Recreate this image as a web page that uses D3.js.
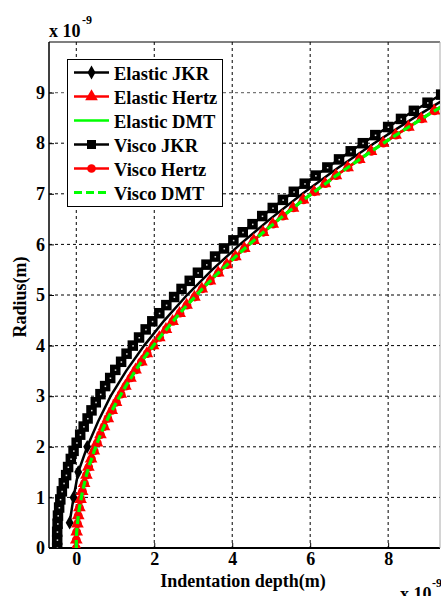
<!DOCTYPE html>
<html>
<head>
<meta charset="utf-8">
<script src="https://cdn.jsdelivr.net/npm/d3@7"></script>
<style>
  html, body { margin: 0; padding: 0; background: #fff; }
</style>
</head>
<body>
<div id="chart"></div>
<script>
// ---- data (both axes in units of 1e-9 m) ----
const radius = [0, 0.16, 0.32, 0.48, 0.64, 0.80, 0.96, 1.12, 1.28, 1.44, 1.60, 1.76, 1.92, 2.08, 2.24, 2.40,
    2.56, 2.72, 2.88, 3.04, 3.20, 3.36, 3.52, 3.68, 3.84, 4.00, 4.16, 4.32, 4.48, 4.64, 4.80, 4.96, 5.12,
    5.28, 5.44, 5.60, 5.76, 5.92, 6.08, 6.24, 6.40, 6.56, 6.72, 6.88, 7.04, 7.20, 7.36, 7.52, 7.68, 7.84,
    8.00, 8.16, 8.32, 8.48, 8.64, 8.80, 8.96, 9.12];

// Hertz (and DMT, which lies on top of it)
const hertzDepth = [0, 0.00, 0.01, 0.03, 0.05, 0.08, 0.11, 0.15, 0.20, 0.26, 0.31, 0.38, 0.45, 0.53, 0.62, 0.71,
    0.81, 0.91, 1.02, 1.14, 1.26, 1.39, 1.52, 1.67, 1.81, 1.97, 2.13, 2.30, 2.47, 2.65, 2.83, 3.03, 3.22,
    3.43, 3.64, 3.86, 4.08, 4.31, 4.55, 4.79, 5.04, 5.29, 5.56, 5.82, 6.10, 6.38, 6.66, 6.96, 7.26, 7.56,
    7.87, 8.19, 8.52, 8.85, 9.18, 9.53, 9.88, 10.23];
const viscoHertzDepth = [0, 0.00, 0.01, 0.03, 0.05, 0.08, 0.12, 0.16, 0.21, 0.26, 0.32, 0.39, 0.46, 0.54, 0.62, 0.71,
    0.81, 0.92, 1.03, 1.15, 1.27, 1.40, 1.53, 1.67, 1.82, 1.98, 2.14, 2.31, 2.48, 2.66, 2.84, 3.04, 3.23,
    3.44, 3.65, 3.87, 4.09, 4.32, 4.56, 4.80, 5.05, 5.30, 5.57, 5.83, 6.11, 6.39, 6.67, 6.97, 7.27, 7.57,
    7.88, 8.20, 8.53, 8.86, 9.19, 9.54, 9.89, 10.24];
const viscoJkrDepth = [-0.49, -0.49, -0.49, -0.48, -0.47, -0.44, -0.41, -0.37, -0.32, -0.26, -0.21, -0.14, -0.07,
    0.01, 0.10, 0.19, 0.29, 0.39, 0.50, 0.62, 0.74, 0.87, 1.00, 1.15, 1.29, 1.45, 1.61, 1.78, 1.95, 2.13,
    2.31, 2.51, 2.70, 2.91, 3.12, 3.34, 3.56, 3.79, 4.03, 4.27, 4.52, 4.77, 5.04, 5.30, 5.58, 5.86, 6.14,
    6.44, 6.74, 7.04, 7.35, 7.67, 8.00, 8.33, 8.66, 9.01, 9.36, 9.71];

const elasticJkrRadius = [0.5, 1.0, 1.5, 2.0, 2.5, 3.0, 3.5, 4.0, 4.5, 5.0, 5.5, 6.0, 6.5, 7.0, 7.5, 8.0, 8.5, 9.0];
const elasticJkrDepth = [-0.17, -0.07, 0.05, 0.28, 0.56, 0.88, 1.28, 1.74, 2.26, 2.84, 3.49, 4.20, 4.97, 5.80,
    6.69, 7.64, 8.66, 9.73];
const elasticJkrVisibleMarkers = 4;   // diamonds further up are hidden under the squares

const xTicks = [0, 2, 4, 6, 8];
const yTicks = [0, 1, 2, 3, 4, 5, 6, 7, 8, 9];
const legendNames = ['Elastic JKR', 'Elastic Hertz', 'Elastic DMT', 'Visco JKR', 'Visco Hertz', 'Visco DMT'];

// ---- layout ----
const W = 441, H = 596;
const plotL = 49, plotR = 440, plotT = 42, plotB = 548;
const FONT = '"Liberation Serif", "DejaVu Serif", serif';

const svg = d3.select('#chart').append('svg')
    .attr('width', W).attr('height', H)
    .style('font-family', FONT).style('font-weight', 'bold');

const x = d3.scaleLinear().domain([-0.7, 9.33]).range([plotL, plotR]);
const y = d3.scaleLinear().domain([0, 10]).range([plotB, plotT]);

svg.append('defs').append('clipPath').attr('id', 'plot-clip')
    .append('rect').attr('x', plotL).attr('y', plotT).attr('width', plotR - plotL).attr('height', plotB - plotT);

// grid
const grid = svg.append('g').attr('class', 'grid');
grid.selectAll('.gx').data(xTicks).enter().append('line')
    .attr('x1', d => x(d)).attr('x2', d => x(d))
    .attr('y1', plotT).attr('y2', plotB)
    .attr('stroke', '#000').attr('stroke-width', 1).attr('stroke-dasharray', '3,3');
grid.selectAll('.gy').data(yTicks.filter(d => d > 0)).enter().append('line')
    .attr('x1', plotL).attr('x2', plotR)
    .attr('y1', d => y(d)).attr('y2', d => y(d))
    .attr('stroke', d => d === 9 ? '#777' : '#000')
    .attr('stroke-width', d => d === 9 ? 1.4 : 1).attr('stroke-dasharray', '3,3');

// axes (inward ticks, MATLAB style)
const xAxis = svg.append('g').attr('transform', `translate(0,${plotB})`)
    .call(d3.axisBottom(x).tickValues(xTicks).tickSize(-5).tickPadding(4).tickFormat(d3.format('d')));
const yAxis = svg.append('g').attr('transform', `translate(${plotL},0)`)
    .call(d3.axisLeft(y).tickValues(yTicks).tickSize(-5).tickPadding(4).tickFormat(d3.format('d')));
[xAxis, yAxis].forEach(a => {
    a.attr('font-family', null).attr('font-size', null);
    a.select('.domain').remove();
    a.selectAll('.tick line').attr('stroke', '#000');
    a.selectAll('.tick text').style('font-family', FONT).attr('font-size', 18).attr('fill', '#000');
});
xAxis.selectAll('.tick text').attr('dy', '0.72em');

// box
svg.append('line').attr('x1', plotL).attr('x2', plotR).attr('y1', plotT).attr('y2', plotT).attr('stroke', '#000').attr('stroke-width', 1.2);
svg.append('line').attr('x1', plotL).attr('x2', plotR).attr('y1', plotB).attr('y2', plotB).attr('stroke', '#000').attr('stroke-width', 2);
svg.append('line').attr('x1', plotL).attr('x2', plotL).attr('y1', plotT).attr('y2', plotB).attr('stroke', '#000').attr('stroke-width', 1.5);
svg.append('line').attr('x1', plotR).attr('x2', plotR).attr('y1', plotT).attr('y2', plotB).attr('stroke', '#aaa').attr('stroke-width', 1);

// ---- series ----
const plot = svg.append('g').attr('clip-path', 'url(#plot-clip)');
const line = d3.line().x(d => x(d[0])).y(d => y(d[1]));
const pairs = (rs, ds) => rs.map((r, i) => [ds[i], r]);

const elasticJkr = pairs(elasticJkrRadius, elasticJkrDepth);
const elasticHertz = pairs(radius, hertzDepth);
const elasticDmt = pairs(radius, hertzDepth);
const viscoJkr = pairs(radius, viscoJkrDepth);
const viscoHertz = pairs(radius, viscoHertzDepth);
const viscoDmt = pairs(radius, viscoHertzDepth);

const diamond = d3.symbol().type(d3.symbolDiamond).size(55);
const triangle = d3.symbol().type(d3.symbolTriangle).size(70);
const circle = d3.symbol().type(d3.symbolCircle).size(60);

// Elastic JKR
plot.append('path').datum(elasticJkr).attr('d', line)
    .attr('fill', 'none').attr('stroke', '#000').attr('stroke-width', 2.5);
plot.selectAll('.dia').data(elasticJkr.slice(0, elasticJkrVisibleMarkers)).enter().append('path')
    .attr('d', diamond).attr('transform', d => `translate(${x(d[0])},${y(d[1])})`).attr('fill', '#000');

// Elastic Hertz
plot.append('path').datum(elasticHertz).attr('d', line)
    .attr('fill', 'none').attr('stroke', '#f00').attr('stroke-width', 2.5);
plot.selectAll('.tri').data(elasticHertz).enter().append('path')
    .attr('d', triangle).attr('transform', d => `translate(${x(d[0])},${y(d[1])})`).attr('fill', '#f00');

// Elastic DMT
plot.append('path').datum(elasticDmt).attr('d', line)
    .attr('fill', 'none').attr('stroke', '#0f0').attr('stroke-width', 2.5);

// Visco JKR
plot.append('path').datum(viscoJkr).attr('d', line)
    .attr('fill', 'none').attr('stroke', '#000').attr('stroke-width', 2.5);
const sq = plot.selectAll('.sq').data(viscoJkr).enter().append('g')
    .attr('transform', d => `translate(${x(d[0])},${y(d[1])})`);
sq.append('rect').attr('x', -5.25).attr('y', -5.25).attr('width', 10.5).attr('height', 10.5).attr('fill', '#000');
sq.append('rect').attr('x', -0.5).attr('y', -0.5).attr('width', 1.5).attr('height', 1.5).attr('fill', '#ddd');

// Visco Hertz
plot.append('path').datum(viscoHertz).attr('d', line)
    .attr('fill', 'none').attr('stroke', '#f00').attr('stroke-width', 2.5);
plot.selectAll('.cir').data(viscoHertz).enter().append('path')
    .attr('d', circle).attr('transform', d => `translate(${x(d[0])},${y(d[1])})`).attr('fill', '#f00');

// Visco DMT
plot.append('path').datum(viscoDmt).attr('d', line)
    .attr('fill', 'none').attr('stroke', '#0f0').attr('stroke-width', 3.2).attr('stroke-dasharray', '8,4');

// ---- legend ----
const legend = svg.append('g');
legend.append('rect').attr('x', 67.5).attr('y', 59.5).attr('width', 155).attr('height', 147)
    .attr('fill', '#fff').attr('stroke', '#000').attr('stroke-width', 1);
const legendStyles = [
    { color: '#000', marker: 'diamond' },
    { color: '#f00', marker: 'triangle' },
    { color: '#0f0', marker: null },
    { color: '#000', marker: 'square' },
    { color: '#f00', marker: 'circle' },
    { color: '#0f0', marker: null, dash: '8,4' }
];
legendNames.forEach((name, i) => {
    const ly = 72.5 + i * 24;
    const st = legendStyles[i];
    const g = legend.append('g');
    g.append('line').attr('x1', 74).attr('x2', 109).attr('y1', ly).attr('y2', ly)
        .attr('stroke', st.color).attr('stroke-width', st.dash ? 3 : 2.5)
        .attr('stroke-dasharray', st.dash || null);
    if (st.marker === 'square') {
        g.append('rect').attr('x', 87).attr('y', ly - 4.5).attr('width', 9).attr('height', 9).attr('fill', '#000');
    } else if (st.marker) {
        const sym = { diamond: diamond, triangle: triangle, circle: circle }[st.marker];
        g.append('path').attr('d', sym).attr('transform', `translate(91.5,${ly})`).attr('fill', st.color);
    }
    g.append('text').attr('x', 114).attr('y', ly + 7).attr('font-size', 18.5).attr('fill', '#000').text(name);
});

// ---- labels ----
svg.append('text').attr('x', 243).attr('y', 587).attr('text-anchor', 'middle')
    .attr('font-size', 18).text('Indentation depth(m)');
svg.append('text').attr('transform', 'translate(26,297) rotate(-90)').attr('text-anchor', 'middle')
    .attr('font-size', 18).text('Radius(m)');

// exponent labels
svg.append('text').attr('x', 49).attr('y', 36.5).attr('font-size', 18).text('x 10');
svg.append('text').attr('x', 82).attr('y', 24).attr('font-size', 12).text('-9');
svg.append('text').attr('x', 400).attr('y', 600).attr('font-size', 18).text('x 10');
svg.append('text').attr('x', 432).attr('y', 587).attr('font-size', 12).text('-9');
</script>
</body>
</html>
